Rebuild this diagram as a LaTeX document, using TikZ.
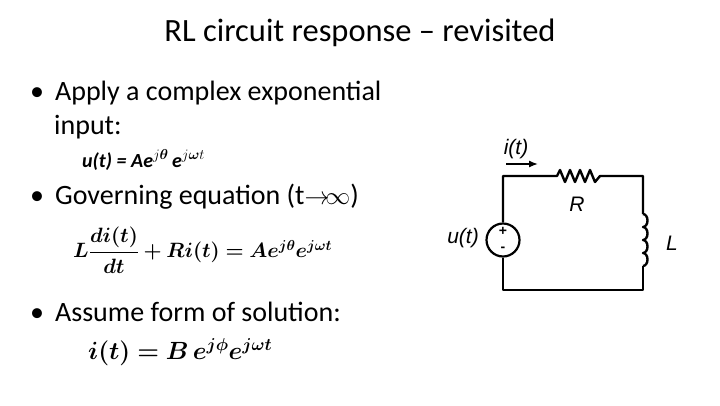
\documentclass[tikz,border=0pt]{standalone}
\usetikzlibrary{arrows.meta}
\usepackage{fontspec}
\setmainfont{Carlito}
\newfontfamily\arialf{Liberation Sans}
\usepackage{amsmath,bm}
\begin{document}
\begin{tikzpicture}[x=1pt,y=-1pt,
  txt/.style={anchor=west,inner sep=0pt},
  wire/.style={line width=2.4pt,line join=round},
  clab/.style={inner sep=0pt,font=\arialf\itshape\fontsize{21}{21}\selectfont}]
\useasboundingbox (0,0) rectangle (720,405);
\node[inner sep=0pt,font=\fontsize{32.5}{32}\selectfont] (title) at (360,33) {RL circuit response -- revisited};
\begin{scope}[font=\fontsize{28}{28}\selectfont]
\node[txt] (b1) at (30,93) {\textbullet\hspace{11pt}Apply a complex exponential};
\node[txt] (b1b) at (54,127) {input:};
\node[txt,font=\bfseries\itshape\fontsize{20}{20}\selectfont] (ut) at (82,160) {u(t) = Ae$^{j\bm{\theta}}$\,e$^{j\bm{\omega} t}$};
\node[txt] (b2) at (30,197) {\textbullet\hspace{11pt}Governing equation (t$\mathord{\rightarrow}\!\infty$)};
\node[txt] (eq1) at (73,250) {\fontsize{20}{20}\selectfont$\bm{L\dfrac{di(t)}{dt}+Ri(t)=Ae^{j\theta}e^{j\omega t}}$};
\node[txt] (b3) at (30,312) {\textbullet\hspace{11pt}Assume form of solution:};
\node[txt] (eq2) at (88,352) {\fontsize{23}{23}\selectfont$\bm{i(t)=B\,e^{j\phi}e^{j\omega t}}$};
\end{scope}
% circuit
\coordinate (tl) at (503,176);
\coordinate (tr) at (643,176);
\coordinate (bl) at (503,290);
\coordinate (br) at (643,290);
\coordinate (r1) at (557,176);
\coordinate (r2) at (600,176);
\coordinate (l1) at (643,214);
\coordinate (l2) at (643,266);
\node[circle,draw,line width=2.2pt,minimum size=33pt,inner sep=0pt] (src) at (503,240) {};
\node[inner sep=0pt,font=\arialf\bfseries\fontsize{14}{14}\selectfont] (plus) at (503,231) {+};
\node[inner sep=0pt,font=\arialf\bfseries\fontsize{14}{14}\selectfont] (minus) at (503,249.5) {-};
\draw[wire] (src.north) -- (tl) -- (r1) -- ++(3,-6) -- ++(5,12) -- ++(5,-12) -- ++(5,12) -- ++(5,-12) -- ++(5,12) -- ++(5,-12) -- ++(5,12) -- (r2) -- (tr) -- (l1);
\draw[wire] (l1) arc(-90:90:4.5 and 6.5) arc(-90:90:4.5 and 6.5) arc(-90:90:4.5 and 6.5) arc(-90:90:4.5 and 6.5);
\draw[wire] (l2) -- (br) -- (bl) -- (src.south);
\coordinate (a1) at (506,164);
\coordinate (a2) at (538,164);
\draw[line width=1.4pt,-{Latex[length=9pt,width=7pt]}] (a1) -- (a2);
\node[clab] (ilab) at (516,149) {i(t)};
\node[clab] (rlab) at (577,204) {R};
\node[clab] (llab) at (672,243) {L};
\node[clab] (ulab) at (463,238) {u(t)};
\end{tikzpicture}
\end{document}
